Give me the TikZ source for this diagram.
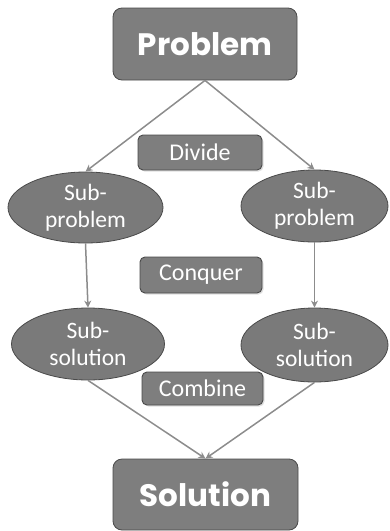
\documentclass[tikz,border=0pt]{standalone}
\usepackage{fontspec}
\setmainfont{Carlito}
\newfontfamily\titlefont{Poppins}
\usetikzlibrary{arrows.meta,shadows,shapes.geometric}
\definecolor{boxfill}{HTML}{7E7E7E}
\definecolor{ellfill}{HTML}{7A7A7A}
\definecolor{edgecol}{HTML}{4A4A4A}
\definecolor{linecol}{HTML}{8C8C8C}
\tikzset{
  bigbox/.style={draw=edgecol, line width=0.8pt, fill=boxfill, rounded corners=9pt,
    minimum width=184pt, minimum height=72pt, inner sep=0pt,
    text=white, font=\titlefont\bfseries\fontsize{31}{36}\selectfont},
  smallbox/.style={draw=edgecol, line width=0.9pt, fill=boxfill, rounded corners=5pt,
    minimum width=122pt, minimum height=35pt, inner sep=0pt,
    drop shadow={shadow xshift=1.5pt, shadow yshift=-1.5pt, opacity=0.25},
    text=white, font=\fontsize{24}{28}\selectfont},
  sub/.style={ellipse, draw=edgecol, line width=0.8pt, fill=ellfill, inner sep=0pt,
    text=white, align=center, font=\fontsize{23.5}{27}\selectfont},
  conn/.style={draw=linecol, line width=1.5pt, -{Stealth[length=7pt,width=7pt]}}
}
\begin{document}
\begin{tikzpicture}[x=1pt,y=1pt]
\useasboundingbox (0,0) rectangle (389,-531);
\node[bigbox] (prob) at (205,-44) {Problem};
\node[bigbox, minimum width=185pt, minimum height=71pt] (sol) at (205.5,-494.5) {Solution};
\node[smallbox, minimum width=124pt] (div) at (200,-152.5) {Divide};
\node[smallbox, minimum height=36pt] (conq) at (201,-275) {Conquer};
\node[smallbox, minimum width=121pt, minimum height=33pt] (comb) at (202.5,-388.5) {Combine};
\node[sub, minimum width=155pt, minimum height=71pt] (lsp) at (85.5,-207.5) {Sub-\\problem};
\node[sub, minimum width=147pt, minimum height=72pt] (rsp) at (314.5,-206) {Sub-\\problem};
\node[sub, minimum width=153pt, minimum height=72pt] (lss) at (88,-344) {Sub-\\solution};
\node[sub, minimum width=147pt, minimum height=74pt] (rss) at (314.5,-345) {Sub-\\solution};
\draw[conn] (prob.south) -- (lsp.north);
\draw[conn] (prob.south) -- (rsp.north);
\draw[conn] (lsp.south) -- (lss.north);
\draw[conn] (rsp.south) -- (rss.north);
\draw[conn] (lss.south) -- (sol.north);
\draw[conn] (rss.south) -- (sol.north);
\end{tikzpicture}
\end{document}
